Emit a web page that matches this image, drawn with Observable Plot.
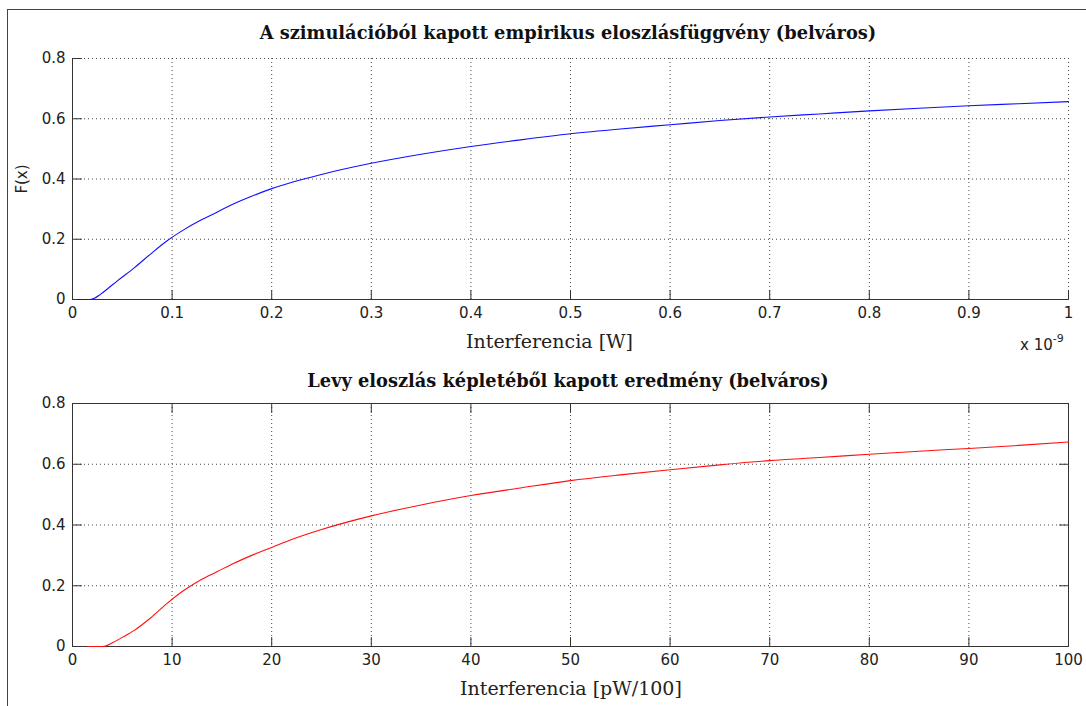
<!DOCTYPE html>
<html><head><meta charset="utf-8">
<script src="https://cdn.jsdelivr.net/npm/d3@7"></script>
<script src="https://cdn.jsdelivr.net/npm/@observablehq/plot@0.6"></script>
<style>
body{margin:0;background:#fff}
#wrap{position:relative;width:1086px;height:706px;overflow:hidden;background:#fff}
.abs{position:absolute;white-space:nowrap;line-height:1}
.title{font-family:"DejaVu Serif";font-weight:bold;font-size:17.8px;color:#111;transform:translate(-50%,-50%)}
.xlab{font-family:"DejaVu Serif";font-size:19px;color:#222;transform:translateY(-50%)}
.sans{font-family:"DejaVu Sans";font-size:15px;color:#222}
.plot{position:absolute;left:0}
.frameL{position:absolute;left:7px;top:9px;width:1px;height:700px;background:#444}
.frameT{position:absolute;left:7px;top:9px;width:1090px;height:1px;background:#444}
</style></head>
<body><div id="wrap"></div>
<script>
// Top chart: x in units of 10^-9 W
const empX = [0.005,0.018,0.022,0.028,0.035,0.045,0.062,0.078,0.095,0.112,0.128,0.145,0.162,0.18,0.2,0.25,0.3,0.35,0.4,0.45,0.5,0.55,0.6,0.65,0.7,0.75,0.8,0.85,0.9,0.95,1.0];
const empF = [0,0,0.004,0.017,0.035,0.062,0.105,0.15,0.195,0.232,0.262,0.29,0.318,0.343,0.368,0.415,0.452,0.482,0.508,0.53,0.55,0.566,0.58,0.594,0.606,0.616,0.626,0.635,0.643,0.65,0.657];
// Bottom chart: x in pW/100
const levyX = [1.5,3,4,5,6.2,7.8,9.5,11.2,12.9,14.5,16.2,18,20,22,25,30,35,40,45,50,55,60,65,70,75,80,85,90,95,100];
const levyF = [0,0,0.012,0.03,0.053,0.093,0.142,0.185,0.22,0.246,0.274,0.3,0.326,0.352,0.385,0.43,0.466,0.497,0.522,0.546,0.565,0.582,0.598,0.612,0.622,0.633,0.643,0.652,0.662,0.673];

const topXTicks = [0,0.1,0.2,0.3,0.4,0.5,0.6,0.7,0.8,0.9,1];
const botXTicks = [0,10,20,30,40,50,60,70,80,90,100];
const yTicks = [0,0.2,0.4,0.6,0.8];

const topTitle = "A szimulációból kapott empirikus eloszlásfüggvény (belváros)";
const botTitle = "Levy eloszlás képletéből kapott eredmény (belváros)";
const topXLabel = "Interferencia [W]";
const botXLabel = "Interferencia [pW/100]";
const yLabel = "F(x)";

const empData = empX.map((x,i)=>({x, y: empF[i]}));
const levyData = levyX.map((x,i)=>({x, y: levyF[i]}));

const fmt = d3.format("~g");
const gridStyle = {stroke:"#333", strokeOpacity:0.9, strokeDasharray:"1,3", strokeWidth:1};
const axisCol = "#333";
const TL = 9; // inward tick length, px
const common = {
  width:1086, marginLeft:72, marginRight:18, marginTop:58,
  style:{background:"transparent", fontFamily:"DejaVu Sans", fontSize:"15px", color:"#222"}
};

// inward tick marks drawn as short vectors
const tickShape = {draw(ctx, l){ ctx.moveTo(0,0); ctx.lineTo(0,-l); }};
const tk = {length:TL, anchor:"start", shape:tickShape, stroke:axisCol, strokeWidth:1};
const ticksBottom = (t, y0) => Plot.vector(t, {x:d=>d, y:y0, rotate:0, ...tk});
const ticksTop    = (t, y0) => Plot.vector(t, {x:d=>d, y:y0, rotate:180, ...tk});
const ticksLeft   = (t, x0) => Plot.vector(t, {x:x0, y:d=>d, rotate:90, ...tk});
const ticksRight  = (t, x0) => Plot.vector(t, {x:x0, y:d=>d, rotate:-90, ...tk});

const topChart = Plot.plot({
  ...common, height:360, marginBottom:61,
  x:{domain:[0,1]}, y:{domain:[0,0.8]},
  marks:[
    Plot.gridX(topXTicks.slice(1), gridStyle),
    Plot.gridY(yTicks.slice(1), gridStyle),
    Plot.axisX(topXTicks, {tickSize:0, tickPadding:8, tickFormat:fmt, label:null}),
    Plot.axisY(yTicks, {tickSize:0, tickPadding:7, tickFormat:fmt, label:null}),
    ticksBottom(topXTicks, 0),
    ticksLeft(yTicks, 0),
    Plot.ruleX([0], {stroke:axisCol}),
    Plot.ruleY([0], {stroke:axisCol}),
    Plot.line(empData, {x:"x", y:"y", stroke:"#1010ff", strokeWidth:1.1, curve:"monotone-x"})
  ]
});

const botChart = Plot.plot({
  ...common, height:361, marginBottom:60,
  x:{domain:[0,100]}, y:{domain:[0,0.8]},
  marks:[
    Plot.gridX(botXTicks.slice(1,-1), gridStyle),
    Plot.gridY(yTicks.slice(1,-1), gridStyle),
    Plot.axisX(botXTicks, {tickSize:0, tickPadding:8, tickFormat:fmt, label:null}),
    Plot.axisY(yTicks, {tickSize:0, tickPadding:7, tickFormat:fmt, label:null}),
    ticksBottom(botXTicks, 0),
    ticksTop(botXTicks, 0.8),
    ticksLeft(yTicks, 0),
    ticksRight(yTicks, 100),
    Plot.frame({stroke:axisCol}),
    Plot.line(levyData, {x:"x", y:"y", stroke:"#ff1010", strokeWidth:1.1, curve:"monotone-x"})
  ]
});

const wrap = document.getElementById("wrap");
const d1 = document.createElement("div"); d1.className="plot"; d1.style.top="0px"; d1.appendChild(topChart); wrap.appendChild(d1);
const d2 = document.createElement("div"); d2.className="plot"; d2.style.top="345px"; d2.appendChild(botChart); wrap.appendChild(d2);

function addText(cls, text, left, topPx, extra){
  const e = document.createElement("div");
  e.className = "abs " + cls; e.textContent = text;
  e.style.left = left + "px"; e.style.top = topPx + "px";
  if (extra) Object.assign(e.style, extra);
  wrap.appendChild(e); return e;
}
addText("title", topTitle, 568, 33);
addText("title", botTitle, 568, 381);
addText("xlab", topXLabel, 466, 341);
addText("xlab", botXLabel, 460, 688);
addText("sans", yLabel, 22, 179, {transform:"translate(-50%,-50%) rotate(-90deg)"});
const sci = addText("sans", "", 1020, 335);
sci.innerHTML = 'x 10<sup style="font-size:11px;position:relative;top:-2px">-9</sup>';

const fl = document.createElement("div"); fl.className="frameL"; wrap.appendChild(fl);
const ft = document.createElement("div"); ft.className="frameT"; wrap.appendChild(ft);
</script>
</body></html>
